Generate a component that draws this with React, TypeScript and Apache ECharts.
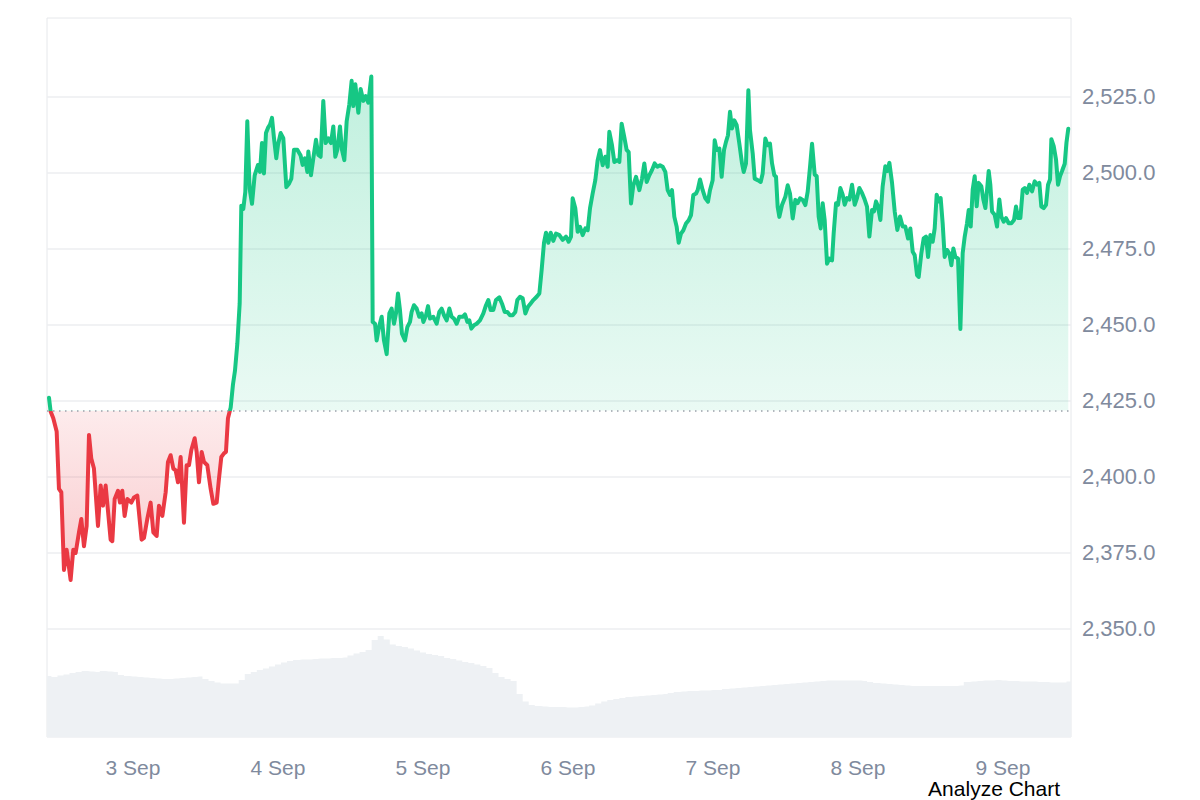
import React, { useEffect, useRef } from "react";
import * as echarts from "echarts";

// Price points: [hours since 3 Sep 00:00, price]
const pricePoints: [number, number][] = [
  [-13.90,2425.9],[-13.63,2421.4],[-13.19,2419.2],[-12.63,2414.8],[-12.25,2395.9],[-11.86,2394.8],[-11.42,2369.2],[-10.98,2375.9],[-10.32,2365.9],[-9.88,2375.9],[-9.49,2374.8],[-8.94,2381.6],[-8.55,2386.0],[-8.11,2377.0],[-7.67,2383.7],[-7.28,2413.7],[-6.90,2405.9],[-6.46,2402.6],[-5.79,2383.7],[-5.35,2397.0],[-4.97,2390.4],[-4.52,2397.0],[-3.70,2379.2],[-3.42,2378.7],[-3.03,2392.6],[-2.48,2395.3],[-2.15,2391.4],[-1.77,2395.3],[-1.38,2387.0],[-0.94,2392.6],[-0.28,2391.4],[0.17,2393.1],[0.72,2393.7],[1.43,2379.2],[1.82,2379.8],[2.37,2386.0],[2.92,2391.4],[3.37,2381.6],[3.92,2380.4],[4.30,2390.4],[4.86,2387.0],[5.41,2394.8],[5.79,2404.8],[6.23,2407.0],[6.68,2402.6],[7.06,2402.0],[7.45,2398.1],[7.89,2406.4],[8.44,2384.8],[8.88,2403.7],[9.27,2403.7],[9.66,2408.7],[10.21,2412.6],[10.54,2408.1],[10.92,2398.1],[11.37,2408.1],[11.75,2404.8],[12.30,2403.7],[12.86,2395.9],[13.30,2391.0],[13.85,2391.4],[14.23,2399.2],[14.62,2406.4],[15.06,2407.6],[15.39,2408.1],[15.72,2419.2],[16.17,2422.7],[16.55,2430.3],[16.88,2434.8],[17.27,2443.7],[17.66,2457.0],[17.93,2489.2],[18.26,2488.1],[18.59,2493.7],[18.92,2517.0],[19.31,2494.8],[19.70,2489.8],[20.14,2499.2],[20.69,2502.6],[21.02,2500.3],[21.35,2509.8],[21.68,2499.8],[22.01,2513.1],[22.34,2514.8],[22.68,2515.9],[23.01,2518.1],[23.34,2511.4],[23.72,2504.8],[24.00,2509.2],[24.44,2513.1],[24.88,2511.4],[25.38,2495.3],[25.82,2496.4],[26.21,2498.1],[26.65,2507.6],[27.20,2507.6],[27.75,2505.7],
  [28.08,2502.6],[28.47,2504.8],[28.86,2500.3],[29.02,2507.0],[29.46,2499.2],[29.85,2504.8],[30.29,2510.9],[30.68,2505.9],[31.06,2505.3],[31.50,2523.7],[31.89,2509.8],[32.33,2511.4],[32.77,2509.8],[33.16,2515.3],[33.49,2505.3],[33.82,2507.6],[34.26,2515.3],[34.59,2507.6],[34.98,2504.2],[35.37,2517.0],[35.81,2522.6],[36.19,2530.3],[36.47,2522.0],[36.80,2529.2],[37.30,2519.8],[37.68,2527.6],[38.12,2523.7],[38.51,2525.3],[38.95,2523.1],[39.45,2531.7],[39.67,2450.9],[40.06,2450.3],[40.33,2444.8],[40.72,2449.2],[41.16,2452.6],[41.54,2444.8],[41.99,2440.3],[42.43,2453.7],[42.81,2455.3],[43.20,2450.3],[43.53,2453.7],[43.86,2460.3],[44.19,2454.8],[44.52,2447.0],[45.02,2444.8],[45.41,2449.2],[45.85,2450.9],[46.12,2454.2],[46.51,2456.4],[46.95,2455.3],[47.39,2452.6],[47.78,2453.7],[48.06,2450.9],[48.50,2453.1],[48.83,2456.1],[49.16,2452.0],[49.71,2452.6],[50.26,2450.3],[50.70,2454.2],[51.09,2455.3],[51.48,2453.1],[51.92,2451.4],[52.36,2455.3],[52.74,2452.6],[53.13,2452.0],[53.57,2450.3],[54.01,2452.6],[54.57,2452.6],[54.95,2453.4],[55.34,2450.9],[55.67,2451.4],[56.00,2448.7],[56.44,2449.8],[56.88,2450.3],[57.43,2451.4],[57.99,2453.7],[58.43,2456.4],[58.81,2458.1],[59.20,2454.8],[59.64,2454.8],[60.08,2458.1],[60.63,2459.0],[61.08,2456.9],[61.52,2454.2],[61.96,2454.2],[62.40,2453.1],[62.84,2453.1],[63.28,2454.2],[63.61,2458.1],[64.06,2459.2],[64.50,2458.7],[64.94,2453.7],[65.38,2455.9],[65.82,2457.0],[66.26,2458.1],[66.81,2459.2],[67.26,2460.3],[67.64,2468.1],[68.03,2477.0],[68.36,2480.3],[68.74,2477.0],[69.13,2480.3],[69.57,2477.6],[70.01,2480.0],
  [70.57,2479.5],[71.12,2477.9],[71.67,2479.0],[72.11,2477.3],[72.50,2479.0],[72.77,2491.6],[73.21,2488.3],[73.60,2480.6],[73.99,2482.2],[74.43,2479.5],[74.87,2481.7],[75.26,2481.1],[75.64,2488.3],[76.08,2493.2],[76.52,2497.6],[76.91,2504.2],[77.30,2507.5],[77.74,2502.5],[78.18,2505.3],[78.57,2502.0],[78.84,2513.5],[79.28,2509.1],[79.67,2503.6],[80.22,2504.2],[80.50,2503.6],[80.88,2516.2],[81.32,2511.8],[81.71,2507.5],[82.04,2506.9],[82.43,2489.9],[82.81,2495.9],[83.26,2498.7],[83.81,2494.3],[84.25,2498.1],[84.63,2503.1],[85.02,2497.0],[85.46,2499.2],[85.90,2500.9],[86.34,2503.1],[86.79,2502.0],[87.23,2502.5],[87.67,2502.0],[88.11,2500.3],[88.50,2494.3],[88.88,2492.7],[89.21,2494.3],[89.60,2485.5],[89.99,2482.2],[90.32,2477.0],[90.70,2480.0],[91.09,2481.1],[91.53,2483.3],[91.97,2484.4],[92.36,2486.1],[92.74,2492.7],[93.19,2493.2],[93.46,2494.3],[93.85,2497.8],[94.29,2494.3],[94.73,2491.6],[95.17,2490.5],[95.50,2494.3],[95.94,2497.6],[96.28,2510.7],[96.61,2507.5],[97.05,2508.0],[97.43,2498.7],[97.82,2507.5],[98.15,2510.2],[98.48,2512.4],[98.81,2520.1],[99.14,2514.6],[99.53,2517.3],[99.92,2515.7],[100.36,2509.6],[100.80,2503.1],[101.08,2500.3],[101.46,2503.1],[101.85,2527.2],[102.12,2514.0],[102.57,2506.4],[102.90,2498.1],[103.39,2497.6],[103.89,2497.0],[104.22,2499.8],[104.66,2511.3],[105.05,2509.1],[105.43,2509.6],[105.77,2503.1],[106.15,2499.2],[106.43,2498.7],[106.70,2488.8],[106.98,2485.5],[107.42,2489.4],[107.97,2492.1],[108.36,2495.9],[108.74,2493.2],[109.19,2485.0],[109.63,2491.1],[110.01,2490.0],[110.40,2491.6],[110.84,2491.1],[111.28,2489.4],[111.67,2493.8],[112.06,2502.0],[112.39,2509.6],
  [112.83,2499.4],[113.16,2498.9],[113.49,2485.6],[113.82,2481.7],[114.15,2490.0],[114.48,2484.5],[114.87,2470.1],[115.26,2471.8],[115.70,2471.2],[115.97,2480.1],[116.36,2490.0],[116.69,2489.5],[117.08,2495.0],[117.46,2492.8],[117.79,2489.5],[118.18,2491.7],[118.57,2491.2],[119.01,2496.1],[119.45,2489.5],[119.83,2491.7],[120.22,2495.0],[120.66,2493.4],[121.10,2491.2],[121.49,2488.9],[121.88,2479.0],[122.32,2487.8],[122.65,2487.3],[122.98,2490.6],[123.31,2488.9],[123.70,2484.5],[124.08,2495.6],[124.52,2502.2],[124.86,2500.6],[125.19,2503.3],[125.63,2496.7],[126.07,2487.3],[126.51,2481.2],[126.95,2485.6],[127.39,2482.3],[127.83,2482.3],[128.28,2478.4],[128.66,2481.7],[129.05,2474.0],[129.38,2472.9],[129.77,2466.3],[130.04,2465.7],[130.48,2473.5],[130.87,2478.4],[131.26,2479.0],[131.59,2472.3],[131.97,2479.5],[132.36,2477.3],[132.69,2481.7],[133.02,2492.8],[133.35,2490.6],[133.68,2491.7],[134.01,2483.4],[134.34,2472.3],[134.73,2474.6],[135.12,2473.5],[135.45,2469.6],[135.78,2475.1],[136.11,2472.3],[136.55,2471.8],[136.94,2448.6],[137.32,2473.5],[137.66,2479.0],[138.04,2483.4],[138.32,2487.8],[138.65,2482.3],[138.98,2494.5],[139.31,2498.9],[139.64,2489.0],[139.97,2496.7],[140.41,2495.6],[140.74,2491.2],[141.08,2488.4],[141.41,2495.6],[141.63,2500.6],[141.90,2496.1],[142.18,2487.3],[142.62,2486.2],[143.01,2482.3],[143.39,2491.2],[143.72,2485.6],[144.11,2483.9],[144.50,2485.1],[144.94,2483.4],[145.38,2483.4],[145.82,2484.5],[146.15,2488.9],[146.48,2485.1],[146.87,2485.1],[147.26,2494.5],[147.59,2495.0],[147.97,2493.4],[148.36,2496.1],[148.80,2493.9],[149.24,2497.2],[149.63,2496.1],[150.01,2496.7],[150.34,2488.9],[150.73,2488.4],[151.12,2489.5],[151.45,2496.1],[151.78,2497.8],[152.00,2511.1],[152.39,2508.8],[152.77,2504.4],[153.10,2496.1],[153.43,2498.9],[153.77,2500.6],[154.21,2503.0],[154.50,2510.0],[154.80,2514.5]
];

const openPrice = 2421.7;

// Hourly volume (billions USD), starting at hour -15 relative to 3 Sep 00:00
const volumeStartHour = -15;
const volumes = [
  12.2,
  12.2,12.0,12.3,12.5,12.8,13.0,13.2,13.1,13.0,13.2,13.1,13.0,12.4,12.2,
  12.1,12.0,11.9,11.8,11.7,11.6,11.6,11.7,11.8,11.9,
  12.0,12.1,11.6,11.2,10.9,10.7,10.7,10.7,11.4,12.6,
  13.0,13.4,13.7,14.1,14.5,14.9,15.2,15.4,15.5,15.5,
  15.6,15.7,15.7,15.8,15.8,15.9,16.3,16.7,17.0,17.4,
  19.4,20.2,19.5,18.5,18.2,18.0,17.7,17.3,16.9,16.6,
  16.4,16.2,15.8,15.6,15.3,15.0,14.8,14.5,14.2,13.8,
  12.8,12.0,11.6,11.2,
  8.6,7.1,6.4,6.2,6.1,6.0,6.0,6.0,5.9,5.9,
  6.0,6.1,6.3,6.7,7.1,7.4,7.6,7.8,8.0,8.1,
  8.2,8.3,8.4,8.5,8.6,8.8,9.0,9.1,9.2,9.2,
  9.3,9.3,9.4,9.4,9.6,9.7,9.8,9.9,10.0,10.1,
  10.2,10.3,10.4,10.5,10.6,10.7,10.8,10.9,11.0,11.1,
  11.2,11.3,11.3,11.3,11.3,11.3,11.3,11.2,11.0,10.8,
  10.7,10.6,10.5,10.4,10.3,10.2,10.2,10.2,10.2,10.2,
  10.2,10.2,10.2,10.3,11.0,11.1,11.2,11.3,11.3,11.4,
  11.3,11.2,11.2,11.1,11.1,11.1,11.0,11.0,10.9,10.9,
  10.9,11.1,11.1
];

const dayHours = [0, 24, 48, 72, 96, 120, 144];
const dayLabels = ["3 Sep", "4 Sep", "5 Sep", "6 Sep", "7 Sep", "8 Sep", "9 Sep"];
const priceTickMin = 2350;
const priceTickMax = 2525;
const priceTickStep = 25;

const GREEN = "#16c784";
const RED = "#ea3943";
const LABEL = "#808a9d";
const FONT = '"Liberation Sans", Arial, sans-serif';

// plot extents
const X_MIN = -14.23;
const X_MAX = 155.25;
const Y_MIN = 2314.2;
const Y_MAX = 2551;
const VOL_MAX = 143.8;

export default function App() {
  const ref = useRef<HTMLDivElement>(null);

  useEffect(() => {
    if (!ref.current) return;
    const chart = echarts.init(ref.current, null, { renderer: "svg" });

    const W = 1200;
    const H = 800;
    const gLeft = 47;
    const gRight = 129;
    const gTop = 18;
    const gBottom = 63;
    const gW = W - gLeft - gRight;
    const gH = H - gTop - gBottom;

    const px = (h: number) => gLeft + ((h - X_MIN) / (X_MAX - X_MIN)) * gW;
    const py = (p: number) => gTop + ((Y_MAX - p) / (Y_MAX - Y_MIN)) * gH;

    const values = pricePoints.map((p) => p[1]);
    const pMax = Math.max(...values);
    const pMin = Math.min(...values);
    const frac = (pMax - openPrice) / (pMax - pMin);

    const volumeData = volumes.map((v, i) => [volumeStartHour + i, v]);

    const option = {
      animation: false,
      textStyle: { fontFamily: FONT },
      grid: [
        {
          left: gLeft,
          right: gRight,
          top: gTop,
          bottom: gBottom,
          show: true,
          borderColor: "#e6e8eb",
          borderWidth: 1,
          backgroundColor: "transparent",
        },
        {
          left: gLeft,
          right: gRight,
          top: py(priceTickMax),
          bottom: H - py(priceTickMin),
          show: false,
        },
        {
          left: px(dayHours[0]),
          right: W - px(dayHours[dayHours.length - 1]),
          top: gTop,
          bottom: gBottom,
          show: false,
        },
      ],
      xAxis: [
        {
          gridIndex: 0,
          type: "value",
          min: X_MIN,
          max: X_MAX,
          show: false,
          splitLine: { show: false },
        },
        {
          gridIndex: 1,
          type: "value",
          min: 0,
          max: 1,
          show: false,
          splitLine: { show: false },
        },
        {
          gridIndex: 2,
          type: "value",
          min: dayHours[0],
          max: dayHours[dayHours.length - 1],
          interval: 24,
          axisLine: { show: false },
          axisTick: { show: false },
          splitLine: { show: false },
          axisLabel: {
            color: LABEL,
            fontSize: 21,
            fontFamily: FONT,
            margin: 20,
            showMinLabel: true,
            showMaxLabel: true,
            formatter: (v: number) => {
              const i = dayHours.indexOf(Math.round(v));
              return i >= 0 ? dayLabels[i] : "";
            },
          },
        },
      ],
      yAxis: [
        {
          gridIndex: 0,
          type: "value",
          min: Y_MIN,
          max: Y_MAX,
          show: false,
          splitLine: { show: false },
        },
        {
          gridIndex: 0,
          type: "value",
          min: 0,
          max: VOL_MAX,
          show: false,
          splitLine: { show: false },
        },
        {
          gridIndex: 1,
          type: "value",
          position: "right",
          min: priceTickMin,
          max: priceTickMax,
          interval: priceTickStep,
          axisLine: { show: false },
          axisTick: { show: false },
          splitLine: { show: true, lineStyle: { color: "#eceef1", width: 1.5 } },
          axisLabel: {
            color: LABEL,
            fontSize: 22,
            fontFamily: FONT,
            margin: 11,
            showMinLabel: true,
            showMaxLabel: true,
            formatter: (v: number) =>
              v.toLocaleString("en-US", { minimumFractionDigits: 1, maximumFractionDigits: 1 }),
          },
        },
        {
          gridIndex: 2,
          type: "value",
          min: 0,
          max: 1,
          show: false,
          splitLine: { show: false },
        },
      ],
      series: [
        {
          type: "line",
          name: "Volume",
          data: volumeData,
          xAxisIndex: 0,
          yAxisIndex: 1,
          step: "middle",
          symbol: "none",
          z: 1,
          lineStyle: { width: 0, color: "#eef1f4" },
          itemStyle: { color: "#eef1f4" },
          areaStyle: { color: "#eef1f4", opacity: 1 },
        },
        {
          type: "line",
          name: "Price",
          data: pricePoints,
          xAxisIndex: 0,
          yAxisIndex: 0,
          symbol: "none",
          z: 3,
          lineStyle: {
            width: 4,
            cap: "round",
            join: "round",
            color: new echarts.graphic.LinearGradient(0, 0, 0, 1, [
              { offset: 0, color: GREEN },
              { offset: frac, color: GREEN },
              { offset: frac, color: RED },
              { offset: 1, color: RED },
            ]),
          },
          areaStyle: {
            origin: openPrice,
            opacity: 1,
            color: new echarts.graphic.LinearGradient(0, 0, 0, 1, [
              { offset: 0, color: "rgba(22,199,132,0.27)" },
              { offset: frac, color: "rgba(22,199,132,0.09)" },
              { offset: frac, color: "rgba(234,57,67,0.10)" },
              { offset: 1, color: "rgba(234,57,67,0.27)" },
            ]),
          },
          markLine: {
            silent: true,
            symbol: ["none", "none"],
            label: { show: false },
            data: [
              {
                yAxis: openPrice,
                lineStyle: { color: "#9aa1ab", width: 1.5, type: [1.5, 4.5] },
              },
            ],
          },
        },
      ],
      graphic: [
        {
          type: "text",
          right: 140,
          top: 778,
          style: {
            text: "Analyze Chart",
            font: `21px ${FONT}`,
            fill: "#000000",
          },
        },
      ],
    };

    chart.setOption(option as any);
    return () => chart.dispose();
  }, []);

  return (
    <div
      ref={ref}
      style={{ position: "absolute", left: 0, top: 0, width: 1200, height: 800 }}
    />
  );
}
